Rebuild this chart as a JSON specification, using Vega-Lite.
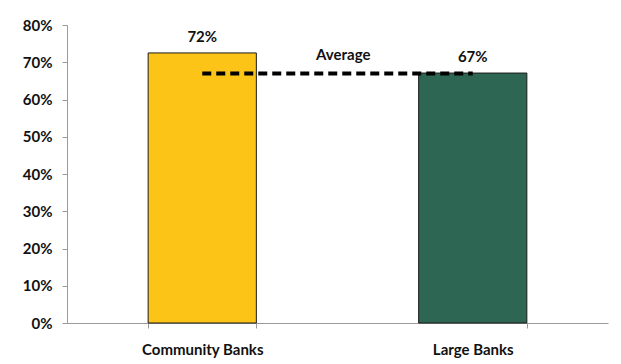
{
  "$schema": "https://vega.github.io/schema/vega-lite/v6.json",
  "autosize": {"type": "none"},
  "width": 541,
  "height": 298,
  "padding": {"left": 67, "top": 25, "right": 13, "bottom": 41},
  "background": "white",
  "config": {
    "view": {"stroke": null},
    "font": "Lato",
    "axis": {"labelFont": "Lato", "labelFontWeight": "bold", "labelFontSize": 15, "labelColor": "#111111", "domainColor": "#9a9a9a", "tickColor": "#9a9a9a", "grid": false, "title": null}
  },
  "datasets": {
    "bars": [
      {"group": "Community Banks", "value": 0.725, "label": "72%"},
      {"group": "Large Banks", "value": 0.671, "label": "67%"}
    ],
    "avg": [
      {"group": "Community Banks", "value": 0.67},
      {"group": "Large Banks", "value": 0.67}
    ]
  },
  "encoding": {
    "x": {"field": "group", "type": "nominal", "sort": null,
          "scale": {"paddingInner": 0.6, "paddingOuter": 0.3},
          "axis": {"labelAngle": 0, "tickBand": "extent", "tickSize": 5, "labelPadding": 14}},
    "y": {"field": "value", "type": "quantitative",
          "scale": {"domain": [0, 0.8], "nice": false},
          "axis": {"format": ".0%", "tickCount": 8, "tickSize": 5, "labelPadding": 10, "labelOverlap": false, "labelSeparation": 0}}
  },
  "layer": [
    {
      "data": {"name": "bars"},
      "mark": {"type": "bar", "stroke": "#1a1a1a", "strokeWidth": 1},
      "encoding": {
        "color": {"field": "group", "type": "nominal", "legend": null,
                  "scale": {"domain": ["Community Banks", "Large Banks"], "range": ["#FCC417", "#2D6652"]}}
      }
    },
    {
      "data": {"name": "bars"},
      "mark": {"type": "text", "baseline": "alphabetic", "dy": -11, "fontSize": 15, "fontWeight": "bold", "color": "#111111"},
      "encoding": {
        "text": {"field": "label"}
      }
    },
    {
      "data": {"name": "avg"},
      "mark": {"type": "line", "color": "#000000", "strokeWidth": 4, "strokeDash": [9, 5]},
      "encoding": {}
    },
    {
      "data": {"values": [{"group": "Community Banks", "value": 0.67, "label": "Average"}]},
      "mark": {"type": "text", "baseline": "alphabetic", "dx": 141, "dy": -13, "fontSize": 15, "fontWeight": "bold", "color": "#111111"},
      "encoding": {
        "text": {"field": "label"}
      }
    }
  ]
}
